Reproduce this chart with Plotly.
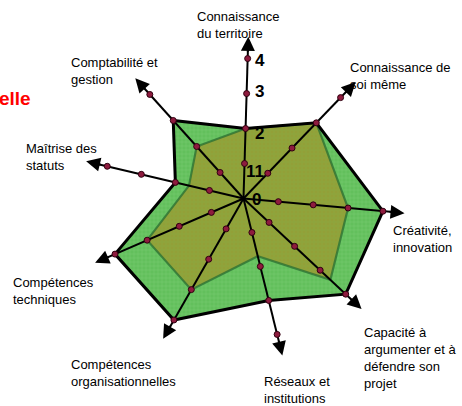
import numpy as np
import plotly.graph_objects as go

# ---------------- data ----------------
categories = [
    "Connaissance<br>du territoire",
    "Connaissance de<br>soi même",
    "Créativité,<br>innovation",
    "Capacité à<br>argumenter et à<br>défendre son<br>projet",
    "Réseaux et<br>institutions",
    "Compétences<br>organisationnelles",
    "Compétences<br>techniques",
    "Maîtrise des<br>statuts",
    "Comptabilité et<br>gestion",
]
outer_values = [2, 3, 4, 4, 3, 4, 4, 2, 3]
inner_values = [2, 3, 3, 3.4, 1.7, 3, 3, 1.6, 2]
scale_ticks = [1, 2, 3, 4]
tick_labels = ["0", "11", "2", "3", "4"]
title_fragment = "elle"

# ---------------- geometry / layout ----------------
axis_angles = [88.3, 46.1, -5.2, -43.1, -76.1, 240.2, 203.4, 166.7, 132.0]
axis_length = 4.45
arrow_tip = 4.62
W, H = 462, 406
cx, cy, unit = 243.5, 198.5, 35.0

theta = np.deg2rad(np.array(axis_angles))


def to_xy(r, t):
    r = np.asarray(r, dtype=float)
    return r * np.cos(t), r * np.sin(t)


fig = go.Figure()

# outer polygon
ox, oy = to_xy(outer_values, theta)
fig.add_trace(go.Scatter(
    x=list(ox) + [ox[0]], y=list(oy) + [oy[0]], mode="lines", fill="toself",
    fillcolor="#62c05c",
    fillpattern=dict(shape="+", size=4, solidity=0.25, fgcolor="#88d27e", bgcolor="#62c05c"),
    line=dict(color="rgba(0,0,0,0)", width=0), hoverinfo="skip", showlegend=False))

# inner polygon
ix, iy = to_xy(inner_values, theta)
fig.add_trace(go.Scatter(
    x=list(ix) + [ix[0]], y=list(iy) + [iy[0]], mode="lines", fill="toself",
    fillcolor="#92a038",
    fillpattern=dict(shape="+", size=4, solidity=0.25, fgcolor="#7eae46", bgcolor="#92a038"),
    line=dict(color="rgba(40,110,50,0.75)", width=2.2), hoverinfo="skip", showlegend=False))

# outer border
fig.add_trace(go.Scatter(
    x=list(ox) + [ox[0]], y=list(oy) + [oy[0]], mode="lines",
    line=dict(color="black", width=3), hoverinfo="skip", showlegend=False))

# axes
ann = []
for t in theta:
    ex, ey = to_xy([0, axis_length], t)
    fig.add_trace(go.Scatter(
        x=ex, y=ey, mode="lines", line=dict(color="black", width=2),
        hoverinfo="skip", showlegend=False))
    hx, hy = to_xy(arrow_tip, t)
    tx_, ty_ = to_xy(axis_length - 0.3, t)
    ann.append(dict(x=float(hx), y=float(hy), ax=float(tx_), ay=float(ty_),
                    xref="x", yref="y", axref="x", ayref="y", text="",
                    showarrow=True, arrowhead=2, arrowsize=1.4, arrowwidth=2,
                    arrowcolor="black", standoff=0, startstandoff=0))

# tick dots on each axis
dx, dy = [], []
for t in theta:
    px, py = to_xy(scale_ticks, t)
    dx += list(px)
    dy += list(py)
fig.add_trace(go.Scatter(
    x=dx, y=dy, mode="markers",
    marker=dict(size=6, color="#8e1b3e", line=dict(color="#300010", width=1)),
    hoverinfo="skip", showlegend=False))

# ---------------- text ----------------
label_pos = [  # (left px, top px) of each axis label
    (195, 7), (348, 58), (391, 221), (362, 323), (262, 372),
    (69, 355), (11, 273), (24, 139), (69, 53),
]
label_ann = []
for txt, (lx, ty) in zip(categories, label_pos):
    label_ann.append(dict(text=txt, x=lx / W, y=1 - ty / H, xref="paper", yref="paper",
                          xanchor="left", yanchor="top", align="left", showarrow=False,
                          font=dict(family="Liberation Sans, Arial", size=13, color="black")))

tick_pos = [(256, 199), (255.5, 171), (259.5, 133), (259.5, 91), (259.5, 61)]
for txt, (tx, ty) in zip(tick_labels, tick_pos):
    label_ann.append(dict(text="<b>%s</b>" % txt, x=tx / W, y=1 - ty / H, xref="paper", yref="paper",
                          xanchor="center", yanchor="middle", showarrow=False,
                          font=dict(family="Liberation Sans, Arial", size=17, color="black")))

label_ann.append(dict(text="<b>%s</b>" % title_fragment, x=33 / W, y=1 - 98 / H, xref="paper", yref="paper",
                      xanchor="right", yanchor="middle", showarrow=False,
                      font=dict(family="Liberation Sans, Arial", size=19, color="#ff0000")))

fig.update_layout(
    width=W, height=H, margin=dict(l=0, r=0, t=0, b=0),
    paper_bgcolor="white", plot_bgcolor="white",
    xaxis=dict(range=[-cx / unit, (W - cx) / unit], visible=False, fixedrange=True),
    yaxis=dict(range=[-(H - cy) / unit, cy / unit], visible=False, fixedrange=True),
    annotations=label_ann + ann,
)

fig.write_html("out.html", config={"displayModeBar": False},
               post_script="document.body.style.margin='0';document.body.style.overflow='hidden';")
